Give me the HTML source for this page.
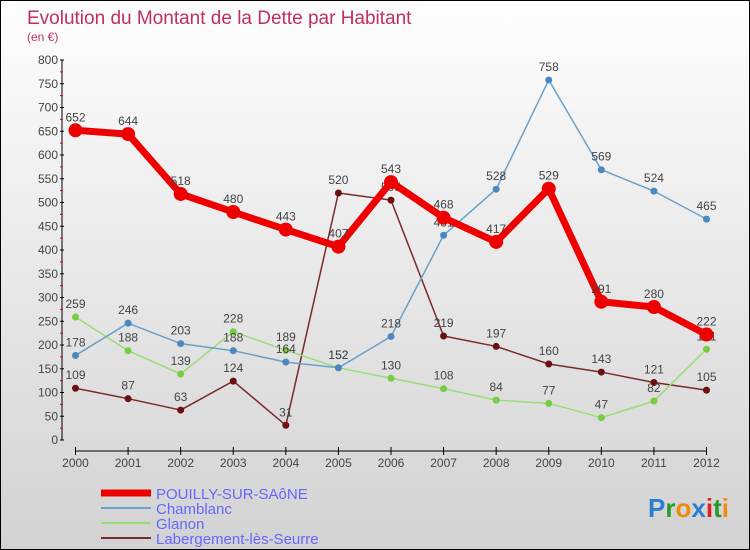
<!DOCTYPE html>
<html><head><meta charset="utf-8"><style>
body{margin:0}
#c{width:748px;height:548px;border:1px solid #000;background:linear-gradient(#fefefe,#d2d2d2);position:relative;font-family:"Liberation Sans",sans-serif;overflow:hidden}
</style></head><body>
<div id="c">
<svg id="s" width="748" height="548" xmlns="http://www.w3.org/2000/svg" style="position:absolute;left:0;top:0">
<text x="26" y="23" font-size="19" fill="#c0305a">Evolution du Montant de la Dette par Habitant</text>
<text x="26" y="40" font-size="12" fill="#c0305a">(en €)</text>
<g id="g"></g>
<text x="728" y="516" font-size="26" text-anchor="end" font-weight="bold"><tspan fill="#2a7fd0">P</tspan><tspan fill="#2a9a2a">r</tspan><tspan fill="#f08a10">o</tspan><tspan fill="#2a7fd0">x</tspan><tspan fill="#e02020">i</tspan><tspan fill="#2a9a2a">t</tspan><tspan fill="#f08a10">i</tspan></text>
</svg></div>
<script>
const years=["2000","2001","2002","2003","2004","2005","2006","2007","2008","2009","2010","2011","2012"];
const yTicks=[0,50,100,150,200,250,300,350,400,450,500,550,600,650,700,750,800];
const pouilly=[652,644,518,480,443,407,543,468,417,529,291,280,222];
const chamblanc=[178,246,203,188,164,152,218,431,528,758,569,524,465];
const glanon=[259,188,139,228,189,152,130,108,84,77,47,82,191];
const laberg=[109,87,63,124,31,520,505,219,197,160,143,121,105];
const NS="http://www.w3.org/2000/svg";
const g=document.getElementById('g');
const X=i=>74.5+i*(705.5-74.5)/12;
const Y=v=>439-v*0.475;
function mk(t,a,p){const e=document.createElementNS(NS,t);for(const k in a)e.setAttribute(k,a[k]);(p||g).appendChild(e);return e;}
let ax=mk('line',{x1:61,y1:Y(800),x2:61,y2:439,stroke:'#000'});


let xa=mk('line',{x1:74,y1:450,x2:706,y2:450,stroke:'#000'});


yTicks.forEach(v=>{mk('line',{x1:59,y1:Y(v),x2:63,y2:Y(v),stroke:'#000'});
 mk('line',{x1:59,y1:Y(v+25),x2:62,y2:Y(v+25),stroke:v<800?'#e00':'none'});
 const t=mk('text',{x:57,y:Y(v)+4,'font-size':12,'text-anchor':'end',fill:'#444'});t.textContent=v;
 
 });
years.forEach((y,i)=>{mk('line',{x1:X(i),y1:446,x2:X(i),y2:454,stroke:'#000'});
 const t=mk('text',{x:X(i),y:466,'font-size':12,'text-anchor':'middle',fill:'#444'});t.textContent=y;
 
 });
function series(d,col,w,r,fill,name){
 const p=mk('polyline',{points:d.map((v,i)=>X(i)+','+Y(v)).join(' '),fill:'none',stroke:col,'stroke-width':w,'stroke-linejoin':'round'});
 
 
 d.forEach((v,i)=>{const c=mk('circle',{cx:X(i),cy:Y(v),r:r,fill:fill});
  
  
  const t=mk('text',{x:X(i),y:Y(v)-9,'font-size':12,'text-anchor':'middle',fill:'#444'});t.textContent=v;
  
  });
}
series(laberg,'#7a2a2a',1.5,3.5,'#6a1010','labergement');
series(glanon,'#99dd77',1.5,3.5,'#77cc44','glanon');
series(chamblanc,'#6aa0cc',1.5,3.5,'#4a88c0','chamblanc');
series(pouilly,'#ee0000',7,7,'#ee0000','pouilly');
const leg=[['POUILLY-SUR-SAôNE','#ee0000',7],['Chamblanc','#6aa0cc',2],['Glanon','#99dd77',2],['Labergement-lès-Seurre','#7a2a2a',2]];
leg.forEach((l,i)=>{const yy=492+i*15;
 const ln=mk('line',{x1:100,y1:yy,x2:150,y2:yy,stroke:l[1],'stroke-width':l[2]});
 
 
 const t=mk('text',{x:155,y:yy+6,'font-size':15,fill:'#6666ff'});t.textContent=l[0];
 
 });
</script>
</body></html>
